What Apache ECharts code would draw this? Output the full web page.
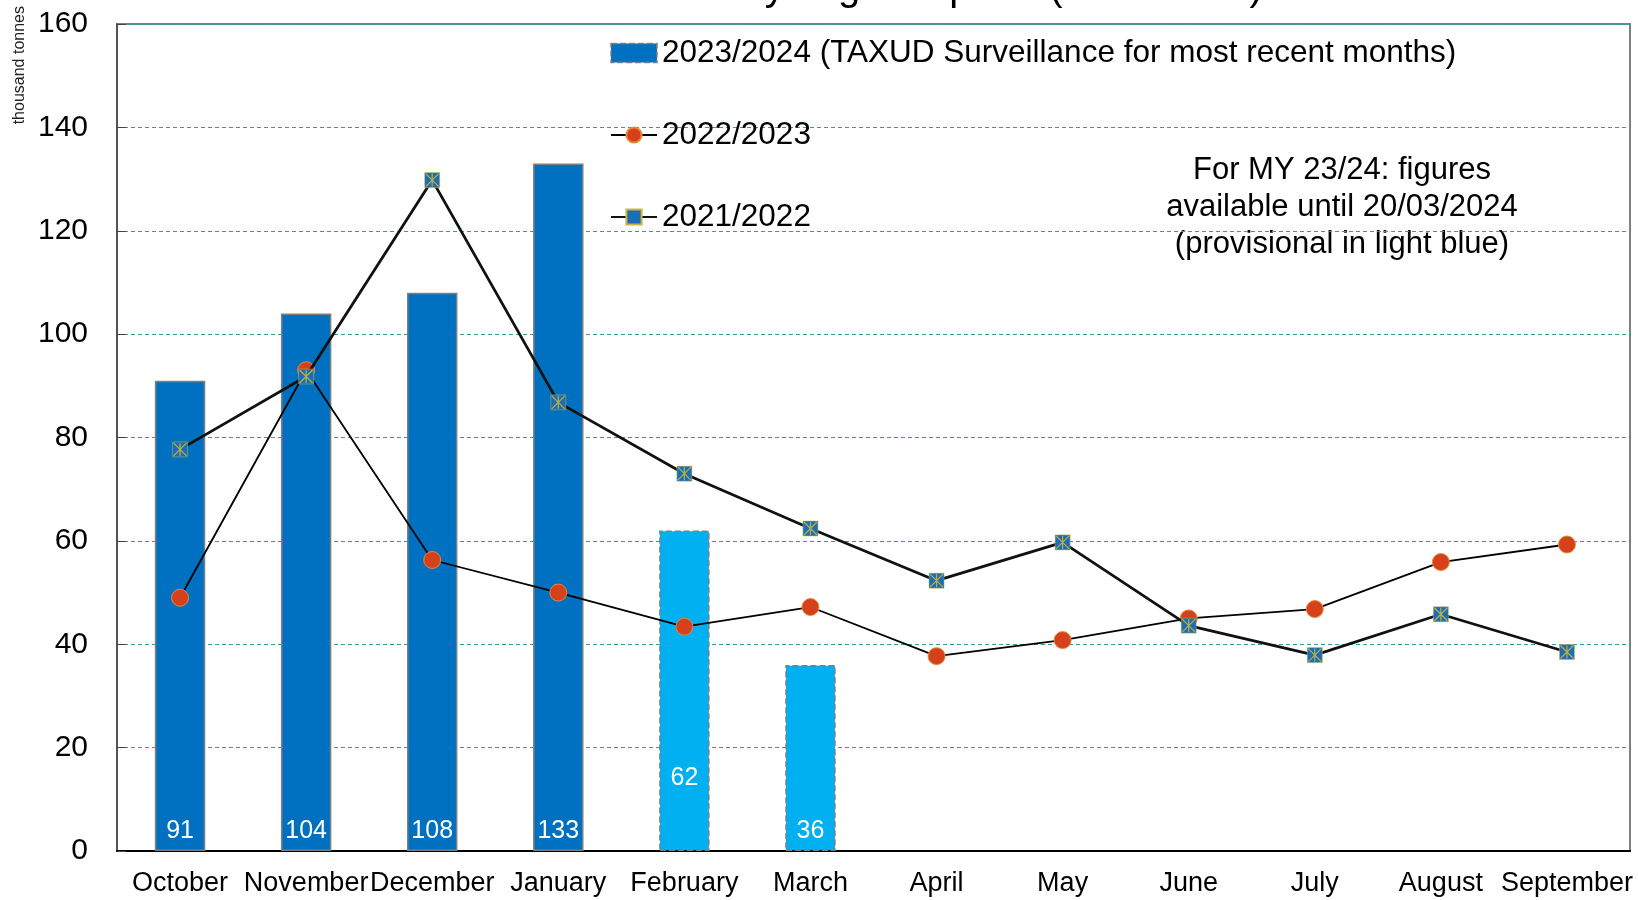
<!DOCTYPE html>
<html>
<head>
<meta charset="utf-8">
<script src="https://cdn.jsdelivr.net/npm/echarts@6/dist/echarts.min.js"></script>
<style>
  html, body { margin: 0; padding: 0; background: #fff; }
  #chart { width: 1638px; height: 900px; }
</style>
</head>
<body>
<div id="chart"></div>
<script>
// marketing year months
var months = ["October", "November", "December", "January", "February", "March",
  "April", "May", "June", "July", "August", "September"];
var yTicks = [0, 20, 40, 60, 80, 100, 120, 140, 160];

// 2023/2024 bars (last two months provisional)
var imports2324 = [91, 104, 108, 133, 62, 36];
var provisional2324 = [false, false, false, false, true, true];

var imports2223 = [49, 93, 56.3, 50, 43.4, 47.2, 37.7, 40.8, 45, 46.8, 55.9, 59.3];
var imports2122 = [77.7, 91.8, 129.8, 86.8, 73, 62.4, 52.3, 59.7, 43.6, 37.9, 45.8, 38.5];

var note = ["For MY 23/24: figures", "available until 20/03/2024", "(provisional in light blue)"];

var FONT = "Liberation Sans";
var chart = echarts.init(document.getElementById("chart"));

// bars: dark blue when final, light blue with dashed border when provisional
var barData = imports2324.map(function (v, i) {
  var prov = provisional2324[i];
  return {
    value: v,
    itemStyle: {
      color: prov ? "#00B0F0" : "#0070C0",
      borderColor: "#7F7F7F",
      borderWidth: 1.5,
      borderType: prov ? "dashed" : "solid",
    },
    label: { distance: i === 4 ? 60 : 7 },
  };
});

// asterisk drawn over the 2021/2022 squares
var starPath = "path://M0,0L10,10M10,0L0,10M5,0L5,10";

var option = {
  animation: false,
  title: {
    text: "EU monthly sugar imports (thousand t)",
    left: 573,
    top: -36,
    textStyle: { fontFamily: FONT, fontSize: 40, fontWeight: "normal", color: "#000" },
  },
  grid: {
    left: 117,
    right: 8,
    top: 24,
    bottom: 49,
    show: true,
    borderColor: "#808080",
    borderWidth: 2,
  },
  legend: {
    orient: "vertical",
    left: 605,
    top: 30,
    itemGap: 46,
    itemWidth: 46,
    itemHeight: 19,
    textStyle: { fontFamily: FONT, fontSize: 31.5, color: "#000", lineHeight: 36 },
    data: [
      {
        name: "2023/2024 (TAXUD Surveillance for most recent months)",
        icon: "rect",
        itemStyle: { color: "#0070C0", borderColor: "#7F7F7F", borderType: "dashed", borderWidth: 1.5 },
      },
      { name: "2022/2023" },
      { name: "2021/2022" },
    ],
  },
  xAxis: {
    type: "category",
    data: months,
    boundaryGap: true,
    axisLine: { lineStyle: { color: "#000", width: 2 } },
    axisTick: { inside: true, length: 7, lineStyle: { color: "#000" } },
    axisLabel: { fontFamily: FONT, fontSize: 27, color: "#000", margin: 19, interval: 0 },
  },
  yAxis: {
    type: "value",
    min: yTicks[0],
    max: yTicks[yTicks.length - 1],
    interval: yTicks[1] - yTicks[0],
    axisLine: { show: true, lineStyle: { color: "#444", width: 1.5 } },
    axisTick: { show: true, inside: true, length: 9, lineStyle: { color: "#444" } },
    axisLabel: { fontFamily: FONT, fontSize: 30, color: "#000", margin: 29 },
    splitLine: { lineStyle: { color: "#2E9E9E", type: [4, 3], width: 1 } },
  },
  graphic: [
    {
      type: "text",
      x: 28,
      y: 6,
      rotation: Math.PI / 2,
      style: {
        text: "thousand tonnes",
        fontFamily: FONT,
        fontSize: 16,
        fill: "#222",
        textAlign: "right",
        textVerticalAlign: "bottom",
      },
    },
    {
      type: "text",
      x: 1342,
      y: 152,
      style: {
        text: note.join("\n"),
        fontFamily: FONT,
        fontSize: 31,
        lineHeight: 37,
        fill: "#000",
        textAlign: "center",
        align: "center",
      },
    },
  ],
  series: [
    {
      name: "2023/2024 (TAXUD Surveillance for most recent months)",
      type: "bar",
      barWidth: "40%",
      data: barData,
      label: {
        show: true,
        position: "insideBottom",
        color: "#fff",
        fontFamily: FONT,
        fontSize: 25,
      },
      z: 1,
    },
    {
      name: "2022/2023",
      type: "line",
      data: imports2223,
      symbol: "circle",
      symbolSize: 17,
      lineStyle: { color: "#000", width: 1.8 },
      itemStyle: { color: "#D5411A", borderColor: "#E8893A", borderWidth: 1 },
      z: 3,
    },
    {
      name: "2021/2022",
      type: "line",
      data: imports2122,
      symbol: "rect",
      symbolSize: 15,
      lineStyle: { color: "#111", width: 2.8 },
      itemStyle: { color: "#1B6DB8", borderColor: "#C9B640", borderWidth: 0.5 },
      z: 4,
    },
    {
      name: "2021/2022 star",
      type: "scatter",
      data: imports2122,
      symbol: starPath,
      symbolSize: 13,
      itemStyle: { color: "none", borderColor: "#E8C21A", borderWidth: 1.2 },
      z: 5,
      silent: true,
    },
  ],
};

chart.setOption(option);
</script>
</body>
</html>
